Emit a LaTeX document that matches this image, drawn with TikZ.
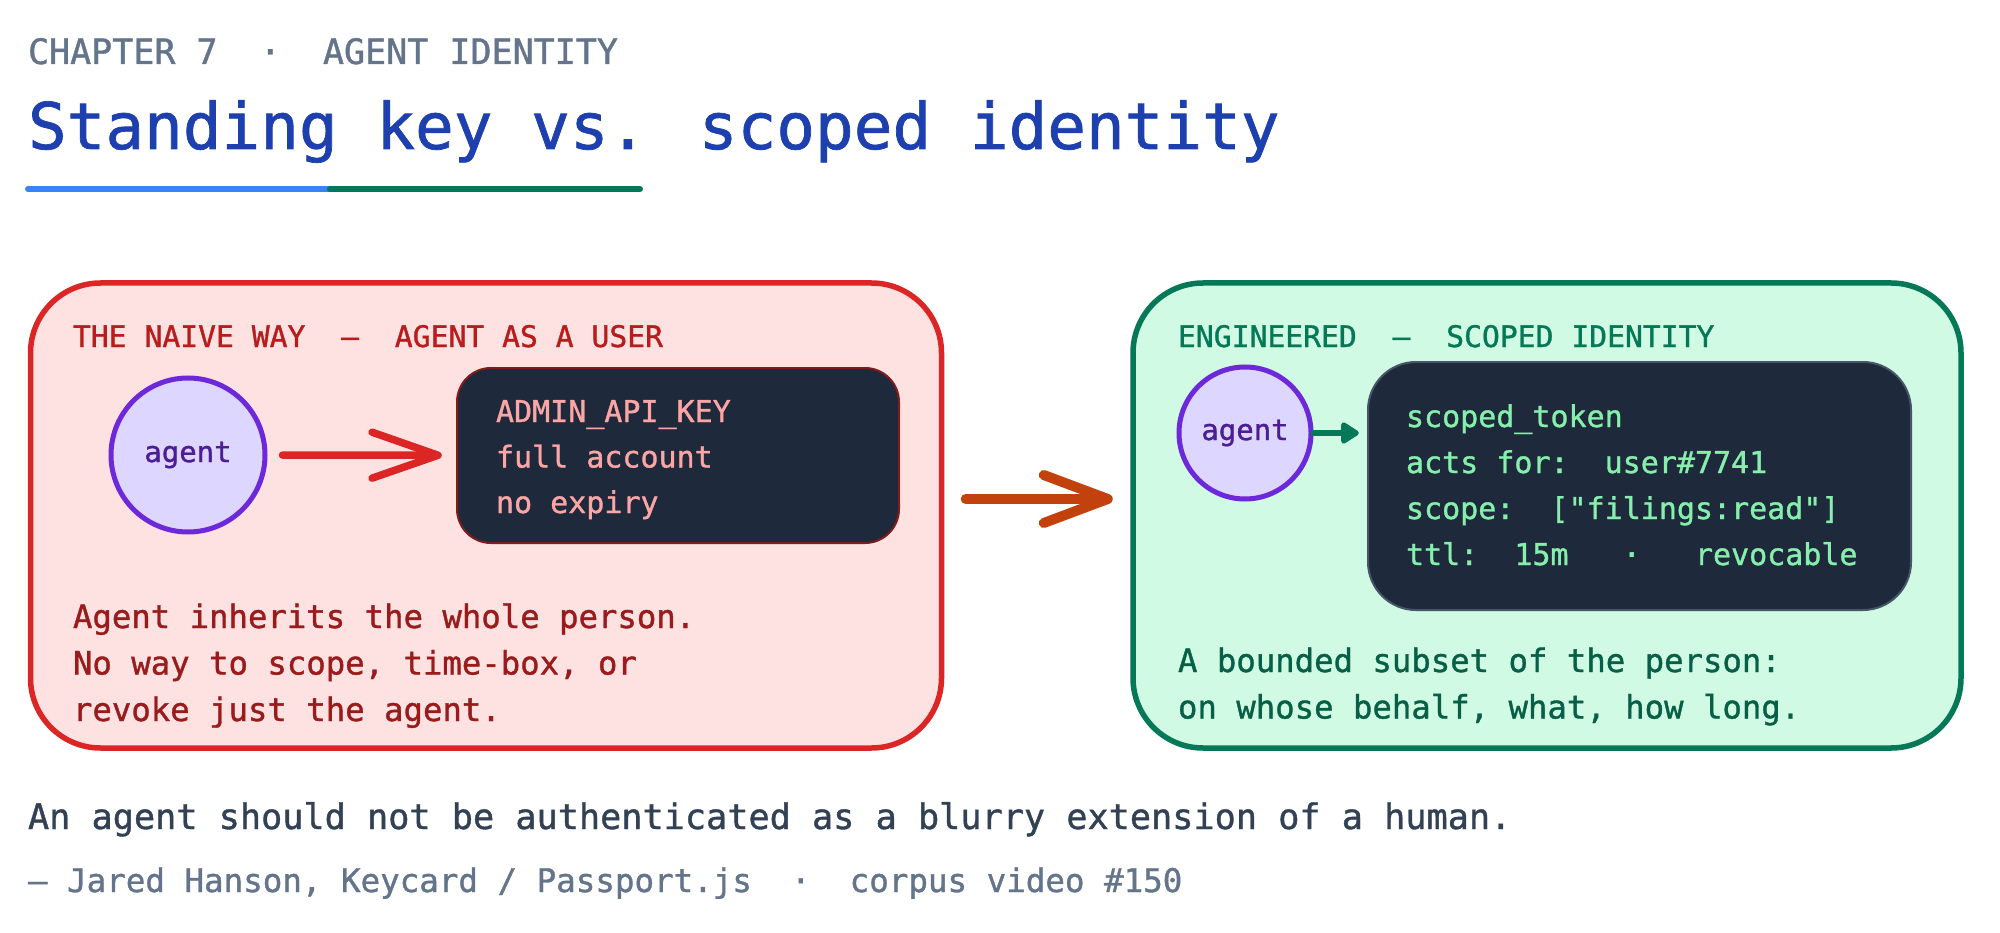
\documentclass[tikz,border=0pt]{standalone}
\usepackage{fontspec}
\setmainfont{DejaVu Sans Mono}[Ligatures=TeXOff]
\newfontfamily\medfont{DejaVu Sans Mono}[FakeBold=1.1,Ligatures=TeXOff]
\usetikzlibrary{arrows.meta}
\definecolor{slateA}{HTML}{64748B}
\definecolor{titleblue}{HTML}{1E40AF}
\definecolor{ulblue}{HTML}{3B82F6}
\definecolor{ulgreen}{HTML}{047857}
\definecolor{redstroke}{HTML}{DC2626}
\definecolor{redfill}{HTML}{FEE2E2}
\definecolor{redhead}{HTML}{B91C1C}
\definecolor{redbody}{HTML}{991B1B}
\definecolor{darkfill}{HTML}{1E293B}
\definecolor{salmon}{HTML}{FCA5A5}
\definecolor{darkred}{HTML}{7F1D1D}
\definecolor{violetfill}{HTML}{DDD6FE}
\definecolor{violetstroke}{HTML}{6D28D9}
\definecolor{violettext}{HTML}{4C1D95}
\definecolor{orangearrow}{HTML}{C2410C}
\definecolor{greenfill}{HTML}{D1FAE5}
\definecolor{greenstroke}{HTML}{047857}
\definecolor{greenlight}{HTML}{86EFAC}
\definecolor{greenbody}{HTML}{065F46}
\definecolor{slatestroke}{HTML}{475569}
\definecolor{quotecol}{HTML}{334155}
\newcommand{\fsz}[1]{\medfont\fontsize{#1pt}{#1pt}\selectfont}
\begin{document}
\begin{tikzpicture}[x=1pt,y=-1pt,
  txt/.style={anchor=base west,inner sep=0pt,outer sep=0pt},
  panel/.style={draw,line width=5.5pt,rounded corners=70pt},
  codebox/.style={fill=darkfill,line width=2pt},
  agentnode/.style={circle,draw=violetstroke,fill=violetfill,line width=5pt,inner sep=0pt,text=violettext,font=\fsz{29}},
  barb/.style={line cap=round,line join=round}
]
\fill[white] (0,0) rectangle (2000,933);
\useasboundingbox (0,0) rectangle (2000,933);

% heading
\node[txt,text=slateA,font=\fsz{35}] (chap) at (28,64) {CHAPTER~7~~·~~AGENT~IDENTITY};
\node[txt,text=titleblue,font=\fsz{64.3}] (title) at (28,149) {Standing key vs. scoped identity};
\draw[ulblue,line width=6pt,line cap=round] (28,189) coordinate (ulA) -- (330,189) coordinate (ulB);
\draw[ulgreen,line width=6pt,line cap=round] (ulB) -- (640,189) coordinate (ulC);

% left panel
\draw[panel,draw=redstroke,fill=redfill] (30.5,283) rectangle (941.5,748);
\node[inner sep=0pt] (redbox) at (486,515.5) [minimum width=911pt,minimum height=465pt] {};
\node[txt,text=redhead,font=\fsz{29.7}] (redhead) at (73,347) {THE~NAIVE~WAY~~–~~AGENT~AS~A~USER};
\node[agentnode,minimum size=154pt] (agentL) at (188,455) {agent};
\draw[codebox,draw=darkred,rounded corners=34pt] (457,368) rectangle (899,543);
\node[inner sep=0pt,minimum width=442pt,minimum height=175pt] (keyL) at (678,455.5) {};
\node[txt,text=salmon,font=\fsz{30}] (k1) at (496,422) {ADMIN\_API\_KEY};
\node[txt,text=salmon,font=\fsz{30}] (k2) at (496,467.5) {full account};
\node[txt,text=salmon,font=\fsz{30}] (k3) at (496,513) {no expiry};
\draw[redstroke,line width=7.5pt,barb,shorten <=15pt,shorten >=15pt,
  -{Straight Barb[length=66pt,width=46pt,round]}] (agentL) -- (keyL);
\node[txt,text=redbody,font=\fsz{32.3}] (b1) at (73,628) {Agent inherits the whole person.};
\node[txt,text=redbody,font=\fsz{32.3}] (b2) at (73,674.5) {No way to scope, time-box, or};
\node[txt,text=redbody,font=\fsz{32.3}] (b3) at (73,721) {revoke just the agent.};

% right panel
\draw[panel,draw=greenstroke,fill=greenfill] (1133,283) rectangle (1961,748);
\node[inner sep=0pt,minimum width=828pt,minimum height=465pt] (greenbox) at (1547,515.5) {};
\node[txt,text=greenstroke,font=\fsz{29.7}] (greenhead) at (1178,347) {ENGINEERED~~–~~SCOPED~IDENTITY};
\node[agentnode,minimum size=132pt] (agentR) at (1245,433) {agent};
\draw[codebox,draw=slatestroke,rounded corners=48pt] (1368,362) rectangle (1911,610);
\node[inner sep=0pt,minimum width=543pt,minimum height=248pt] (tokR) at (1639.5,486) {};
\node[txt,text=greenlight,font=\fsz{30}] (t1) at (1406,427) {scoped\_token};
\node[txt,text=greenlight,font=\fsz{30}] (t2) at (1406,473) {acts~for:~~user\#7741};
\node[txt,text=greenlight,font=\fsz{30}] (t3) at (1406,519) {scope:~~["filings:read"]};
\node[txt,text=greenlight,font=\fsz{30}] (t4) at (1406,565) {ttl:~~15m~~~·~~~revocable};
\draw[greenstroke,line width=6pt,line cap=round,line join=round,shorten >=9pt,
  -{Triangle[length=20pt,width=24pt,round]}] (agentR.east) -- (agentR.east -| tokR.west);
\node[txt,text=greenbody,font=\fsz{32.3}] (g1) at (1178,672) {A bounded subset of the person:};
\node[txt,text=greenbody,font=\fsz{32.3}] (g2) at (1178,718.5) {on whose behalf, what, how long.};

% middle arrow
\draw[orangearrow,line width=10pt,barb,shorten <=24pt,shorten >=20pt,
  -{Straight Barb[length=64pt,width=48pt,round]}]
  ([yshift=16.5pt]redbox.east) -- ([yshift=16.5pt]greenbox.west);

% footer
\node[txt,text=quotecol,font=\fsz{35.2}] (quote) at (28,829) {An agent should not be authenticated as a blurry extension of a human.};
\node[txt,text=slateA,font=\fsz{32.5}] (attr) at (28,892) {–~Jared~Hanson,~Keycard~/~Passport.js~~·~~corpus~video~\#150};
\end{tikzpicture}
\end{document}
